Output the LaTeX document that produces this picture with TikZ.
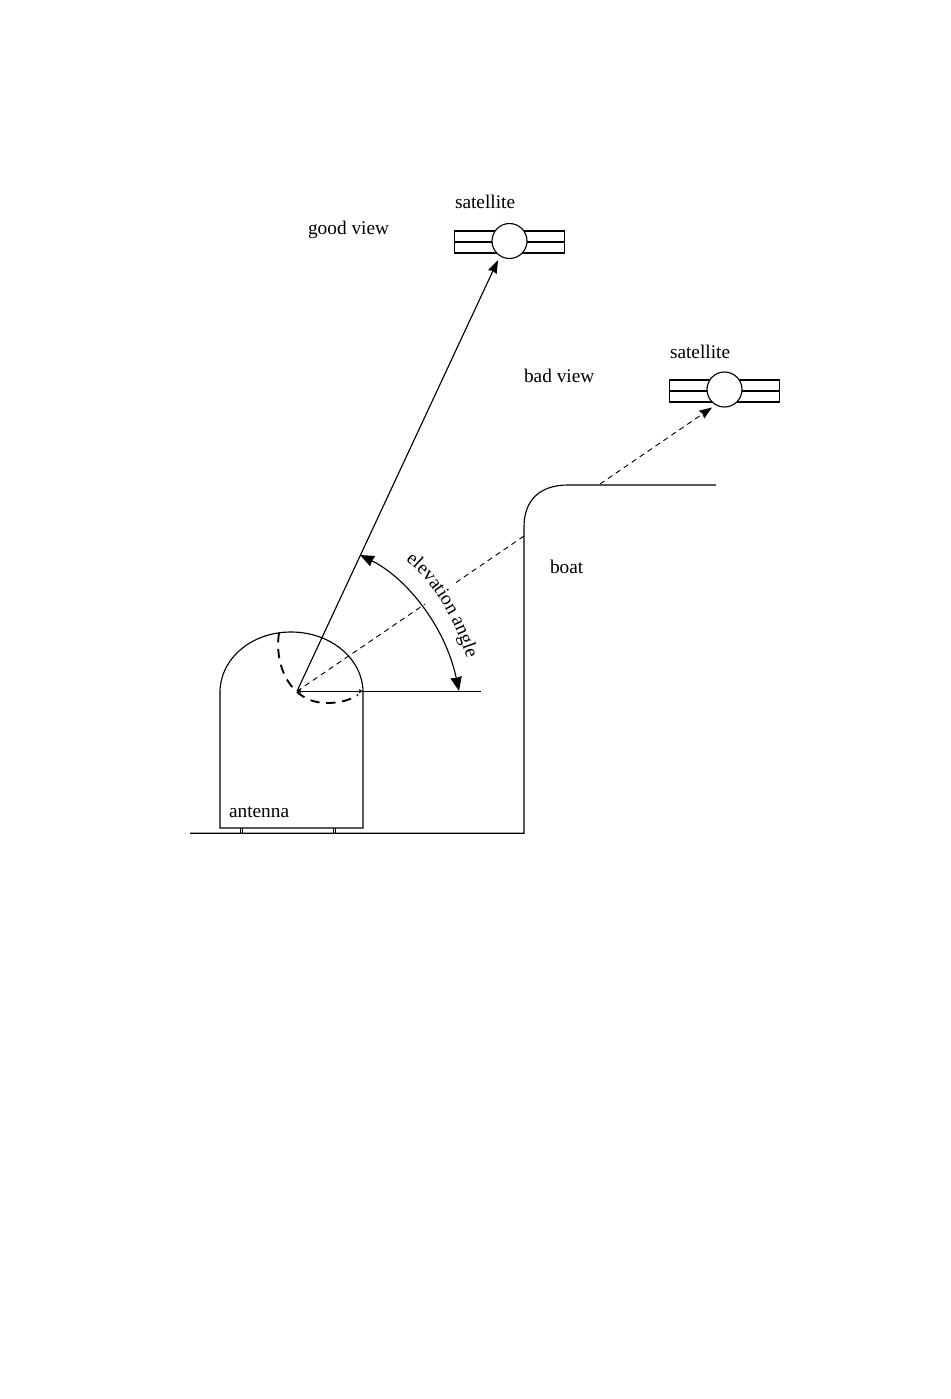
\documentclass[tikz,border=0pt]{standalone}
\usepackage{fontspec}
\setmainfont{Liberation Serif}
\usetikzlibrary{arrows.meta,decorations.text}
\newcommand{\lblfont}{\fontsize{14.5}{17}\selectfont}
\tikzset{
  line/.style={draw=black,line width=0.85pt},
  thinline/.style={draw=black,line width=0.6pt},
  dash1/.style={draw=black,line width=0.7pt,dash pattern=on 4pt off 3.2pt},
  dash2/.style={draw=black,line width=1.4pt,dash pattern=on 7pt off 5pt},
  lbl/.style={anchor=base west,inner sep=0pt,outer sep=0pt,font=\lblfont,text=black},
  bigtip/.style={-{Stealth[length=10pt,width=7pt,inset=1pt]}},
  midtip/.style={-{Stealth[length=9.5pt,width=7pt,inset=1pt]}},
  smalltip/.tip={Stealth[length=3pt,width=3pt,inset=0.5pt]},
  arctip/.tip={Stealth[length=10.5pt,width=8.5pt,inset=0.5pt]},
  panel/.style={draw=black,line width=0.85pt,fill=white,minimum width=82.5pt,minimum height=16.5pt,inner sep=0pt,outer sep=0pt},
  body/.style={circle,draw=black,line width=0.85pt,fill=white,minimum size=26.25pt,inner sep=0pt,outer sep=0pt},
}
\begin{document}
\begin{tikzpicture}[x=0.75pt,y=-0.75pt]
\useasboundingbox[fill=white] (0,0) rectangle (950,1399);
% named points
\coordinate (pivot) at (297,691.2);
\coordinate (domeR) at (363,691.2);
\coordinate (horizEnd) at (481,691.2);
\coordinate (goodTip) at (498,260);
\coordinate (gapA) at (425,604);
\coordinate (gapB) at (456,582.5);
\coordinate (boatHit) at (524,536);
\coordinate (deckHit) at (600,484);
\coordinate (badTip) at (712,407.5);
\coordinate (arcA) at (360,555);
\coordinate (arcB) at (459,691);
% ground + boat
\draw[line] (190,833.3) -- (524,833.3) -- (524,527) .. controls (524,500) and (540,485) .. (568,485) -- (716,485);
% antenna
\draw[line] (220,692) .. controls (220,660) and (250,632) .. (291,632) .. controls (332,632) and (363,660) .. (363,692) -- (363,828) -- (220,828) -- cycle;
\foreach \fx in {240,242,333,335}{\draw[thinline] (\fx,828) -- (\fx,833);}
% thick dashed arc
\draw[dash2] (279,633) .. controls (274,665) and (290,703) .. (327,703) .. controls (340,703) and (350,700) .. (358,695);
% rays
\draw[line,bigtip] (pivot) -- (goodTip);
\draw[dash1] (pivot) -- (gapA);
\draw[dash1] (gapB) -- (boatHit);
\draw[dash1,midtip] (deckHit) -- (badTip);
\draw[line,smalltip-smalltip] (pivot) -- (domeR);
\draw[line] (domeR) -- (horizEnd);
% elevation arc
\draw[line,arctip-arctip] (arcA) .. controls (405,577) and (445,625) .. (arcB);
\path[postaction={decorate},decoration={text along path,text={|\lblfont|elevation angle}}] (405.5,560.5) .. controls (431,580) and (454,616) .. (468,662);
% satellites
\node[panel] (panelA) at (509.5,242) {};
\draw[line] (panelA.west) -- (panelA.east);
\node[body] (satA) at (509.5,241) {};
\node[panel] (panelB) at (724.5,391) {};
\draw[line] (panelB.west) -- (panelB.east);
\node[body] (satB) at (724.5,389.5) {};
% labels
\node[lbl] (lblSatA) at (455,208) {satellite};
\node[lbl] (lblGood) at (308,234) {good view};
\node[lbl] (lblBad) at (524,382) {bad view};
\node[lbl] (lblSatB) at (670,358) {satellite};
\node[lbl] (lblBoat) at (550,573) {boat};
\node[lbl] (lblAnt) at (229,817) {antenna};
\end{tikzpicture}
\end{document}
